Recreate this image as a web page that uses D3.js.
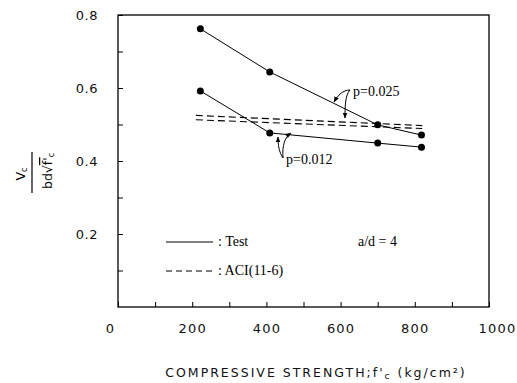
<!DOCTYPE html>
<html><head><meta charset="utf-8">
<script src="https://cdn.jsdelivr.net/npm/d3@7"></script>
<style>
html,body{margin:0;padding:0;background:#fff;}
svg{display:block;}
.tick text{font-family:"DejaVu Sans",sans-serif;}
</style>
</head><body>
<script>
// ---- data ----
const strength = [222, 409, 700, 818];
const testP025 = [0.762, 0.644, 0.499, 0.471];
const testP012 = [0.592, 0.477, 0.449, 0.438];
const aciX = [210, 820];
const aciP025 = [0.525, 0.497];
const aciP012 = [0.513, 0.489];
const xTicks = [0, 100, 200, 300, 400, 500, 600, 700, 800, 900, 1000];
const xLabels = [0, 200, 400, 600, 800, 1000];
const yTicks = [0.1, 0.2, 0.3, 0.4, 0.5, 0.6, 0.7, 0.8];
const yLabels = [0.2, 0.4, 0.6, 0.8];

const W = 517, H = 383;
const L = 118, R = 489, T = 15, B = 307;
const svg = d3.select("body").append("svg").attr("width", W).attr("height", H);
const x = d3.scaleLinear().domain([0, 1000]).range([L, R]);
const y = d3.scaleLinear().domain([0, 0.8]).range([B, T]);

// frame
svg.append("rect").attr("x", L).attr("y", T).attr("width", R - L).attr("height", B - T)
  .attr("fill", "none").attr("stroke", "#000").attr("stroke-width", 1.3);

// y ticks (inward)
const yAx = svg.append("g").attr("transform", `translate(${L},0)`)
  .call(d3.axisLeft(y).tickValues(yTicks).tickSize(-5).tickFormat(""));
yAx.select(".domain").remove();
const yLab = svg.append("g").attr("transform", `translate(${L},0)`)
  .call(d3.axisLeft(y).tickValues(yLabels).tickSize(0).tickPadding(20).tickFormat(d3.format(".1f")));
yLab.select(".domain").remove();
yLab.selectAll("text").attr("font-size", 13).attr("fill", "#111").attr("letter-spacing", 0.5);

// x ticks (inward)
const xAx = svg.append("g").attr("transform", `translate(0,${B})`)
  .call(d3.axisBottom(x).tickValues(xTicks).tickSize(-5).tickFormat(""));
xAx.select(".domain").remove();
const xLab = svg.append("g").attr("transform", `translate(0,${B})`)
  .call(d3.axisBottom(x).tickValues(xLabels).tickSize(0).tickPadding(17).tickFormat(d3.format("d")));
xLab.select(".domain").remove();
xLab.selectAll("text").attr("font-size", 13).attr("fill", "#111").attr("letter-spacing", 1.2)
  .attr("dx", d => d === 0 ? -8 : (d === 1000 ? 8 : 0));

// series
const line = d3.line().x(d => x(d[0])).y(d => y(d[1]));
const tA = strength.map((s, i) => [s, testP025[i]]);
const tB = strength.map((s, i) => [s, testP012[i]]);
const aA = aciX.map((s, i) => [s, aciP025[i]]);
const aB = aciX.map((s, i) => [s, aciP012[i]]);
[tA, tB].forEach(d => svg.append("path").attr("d", line(d)).attr("fill", "none")
  .attr("stroke", "#000").attr("stroke-width", 1));
[aA, aB].forEach(d => svg.append("path").attr("d", line(d)).attr("fill", "none")
  .attr("stroke", "#000").attr("stroke-width", 1.1).attr("stroke-dasharray", "7,4"));
[tA, tB].forEach(d => svg.selectAll(null).data(d).enter().append("circle")
  .attr("cx", p => x(p[0])).attr("cy", p => y(p[1])).attr("r", 3.5).attr("fill", "#000"));

// annotations
const serif = "'Liberation Serif','DejaVu Serif',serif";
svg.append("text").attr("x", 353).attr("y", 96).attr("font-family", serif).attr("font-size", 14)
  .text("p=0.025");
svg.append("text").attr("x", 286).attr("y", 164).attr("font-family", serif).attr("font-size", 14)
  .text("p=0.012");
const defs = svg.append("defs");
defs.append("marker").attr("id", "ah").attr("viewBox", "0 0 10 10").attr("refX", 9).attr("refY", 5)
  .attr("markerWidth", 6).attr("markerHeight", 6).attr("orient", "auto")
  .append("path").attr("d", "M0,1 L10,5 L0,9 Z").attr("fill", "#000");
const arr = (d) => svg.append("path").attr("d", d).attr("fill", "none").attr("stroke", "#000")
  .attr("stroke-width", 1).attr("marker-end", "url(#ah)");
// p=0.025 arrows
arr("M350,90 C343,90 338,95 334,102");
arr("M350,90 C345,95 345,108 345,118");
// p=0.012 arrows
arr("M283,158 C279,152 278,145 278,137");
arr("M283,158 C282,145 285,137 291,133");

// legend
svg.append("line").attr("x1", 166).attr("x2", 213).attr("y1", 242).attr("y2", 242)
  .attr("stroke", "#000").attr("stroke-width", 1.2);
svg.append("line").attr("x1", 166).attr("x2", 213).attr("y1", 271).attr("y2", 271)
  .attr("stroke", "#000").attr("stroke-width", 1.2).attr("stroke-dasharray", "6,4");
svg.append("text").attr("x", 218).attr("y", 246).attr("font-family", serif).attr("font-size", 14)
  .text(":  Test");
svg.append("text").attr("x", 218).attr("y", 275).attr("font-family", serif).attr("font-size", 14)
  .text(":  ACI(11-6)");
svg.append("text").attr("x", 358).attr("y", 246).attr("font-family", serif).attr("font-size", 14)
  .text("a/d = 4");

// x title
svg.append("text").attr("x", 316).attr("y", 377).attr("text-anchor", "middle")
  .attr("font-family", "'DejaVu Sans',sans-serif").attr("font-size", 12.5).attr("letter-spacing", 2)
  .attr("fill", "#111")
  .html("COMPRESSIVE  STRENGTH;f'<tspan font-size='9' dy='2'>c</tspan><tspan dy='-2'> (kg/cm²)</tspan>");

// y title (fraction, rotated)
const yt = svg.append("g");
yt.append("text").attr("transform", "translate(25,174) rotate(-90)").attr("text-anchor", "middle")
  .attr("font-family", "'DejaVu Sans',sans-serif").attr("font-size", 12.5)
  .html("V<tspan font-size='8' dy='2'>c</tspan>");
yt.append("line").attr("x1", 32).attr("x2", 32).attr("y1", 152).attr("y2", 193)
  .attr("stroke", "#000").attr("stroke-width", 1.2);
yt.append("text").attr("transform", "translate(52,171) rotate(-90)").attr("text-anchor", "middle")
  .attr("font-family", "'DejaVu Sans',sans-serif").attr("font-size", 12.5)
  .html("bd√<tspan text-decoration='overline'>f'</tspan><tspan font-size='8' dy='2'>c</tspan>");
</script>
</body></html>
